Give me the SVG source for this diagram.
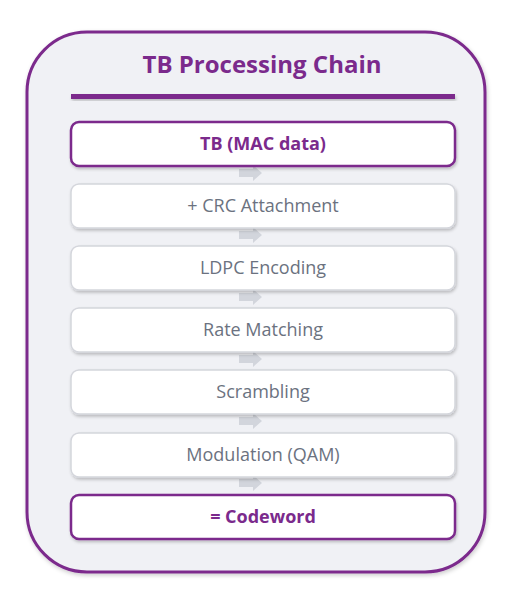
<svg xmlns="http://www.w3.org/2000/svg" width="522" height="611" viewBox="0 0 522 611">
<defs>
<filter id="sh" x="-10%" y="-20%" width="120%" height="150%">
<feDropShadow dx="1" dy="2" stdDeviation="1.5" flood-color="#000" flood-opacity="0.22"/>
</filter>
<filter id="sh2" x="-10%" y="-10%" width="120%" height="120%">
<feDropShadow dx="1" dy="2" stdDeviation="2" flood-color="#000" flood-opacity="0.2"/>
</filter>
<style>
.step{fill:#fff;stroke:#d4d6dc;stroke-width:1.5;filter:url(#sh)}
.key{fill:#fff;stroke:#7b2a8c;stroke-width:2.5;filter:url(#sh)}
.t{font-family:"Segoe UI","Open Sans","Noto Sans",sans-serif;font-size:18px;fill:#6b7280;text-anchor:middle}
.tb{font-family:"Segoe UI","Open Sans","Noto Sans",sans-serif;font-size:18px;font-weight:bold;fill:#7b2a8c;text-anchor:middle}
.arr{fill:#d2d5dc}
</style>
</defs>
<g id="container">
<rect x="27" y="32" width="458" height="540" rx="60" fill="#f0f1f5" stroke="#7b2a8c" stroke-width="3" filter="url(#sh2)"/>
<text x="262" y="73" font-family="'Segoe UI','Open Sans','Noto Sans',sans-serif" font-size="24" font-weight="bold" fill="#7b2a8c" text-anchor="middle">TB Processing Chain</text>
<rect x="71" y="94" width="384" height="5" fill="#7b2a8c" filter="url(#sh)"/>
</g>
<g id="connectors">
<path class="arr" d="M239 169h14v-4l9 8-9 8v-4h-14z"/>
<path class="arr" d="M239 231h14v-4l9 8-9 8v-4h-14z"/>
<path class="arr" d="M239 293h14v-4l9 8-9 8v-4h-14z"/>
<path class="arr" d="M239 355h14v-4l9 8-9 8v-4h-14z"/>
<path class="arr" d="M239 417h14v-4l9 8-9 8v-4h-14z"/>
<path class="arr" d="M239 479h14v-4l9 8-9 8v-4h-14z"/>
</g>
<g id="n1"><rect class="key" x="71" y="122" width="384" height="44" rx="8"/><text class="tb" x="263" y="150">TB (MAC data)</text></g>
<g id="n2"><rect class="step" x="71" y="184" width="384" height="44" rx="8"/><text class="t" x="263" y="212">+ CRC Attachment</text></g>
<g id="n3"><rect class="step" x="71" y="246" width="384" height="44" rx="8"/><text class="t" x="263" y="274">LDPC Encoding</text></g>
<g id="n4"><rect class="step" x="71" y="308" width="384" height="44" rx="8"/><text class="t" x="263" y="336">Rate Matching</text></g>
<g id="n5"><rect class="step" x="71" y="370" width="384" height="44" rx="8"/><text class="t" x="263" y="398">Scrambling</text></g>
<g id="n6"><rect class="step" x="71" y="433" width="384" height="44" rx="8"/><text class="t" x="263" y="461">Modulation (QAM)</text></g>
<g id="n7"><rect class="key" x="71" y="495" width="384" height="44" rx="8"/><text class="tb" x="263" y="523">= Codeword</text></g>
</svg>
